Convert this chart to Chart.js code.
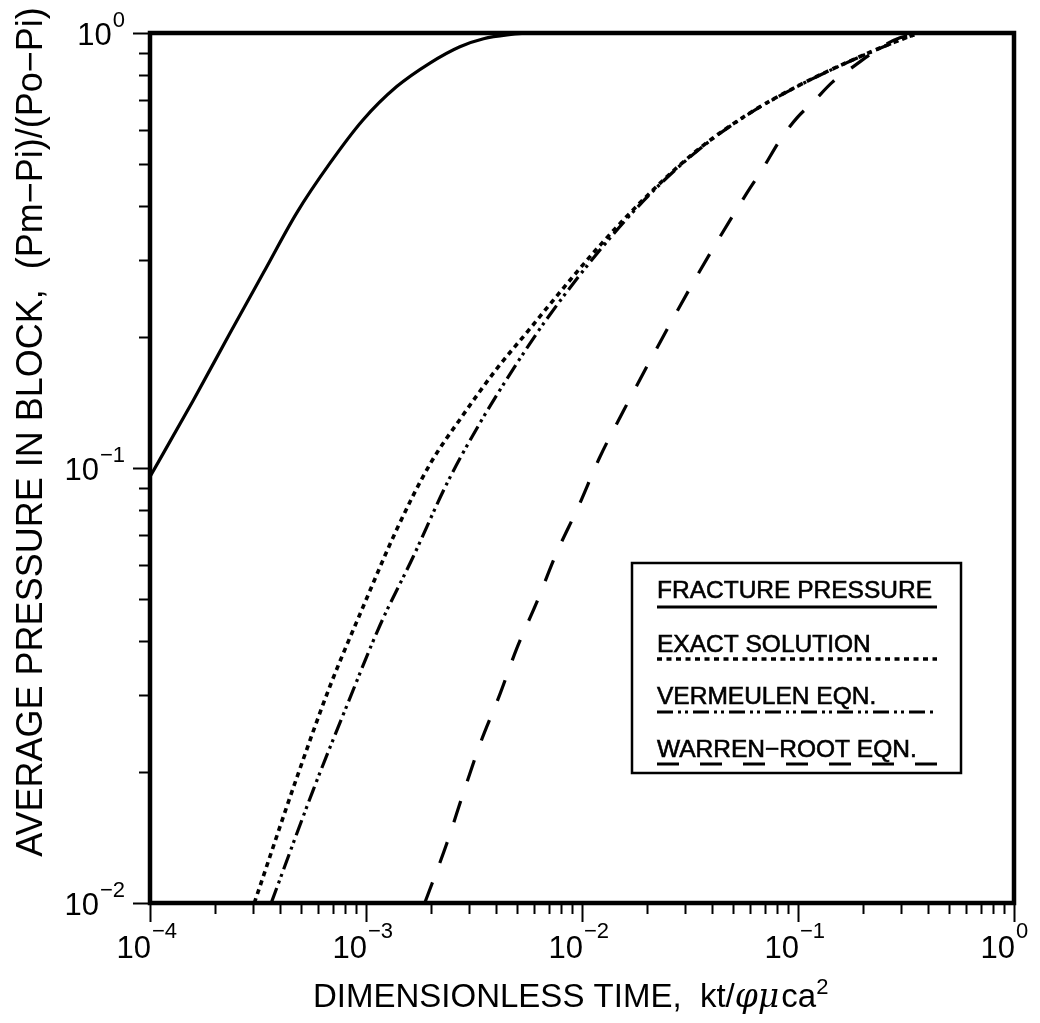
<!DOCTYPE html>
<html><head><meta charset="utf-8">
<script src="https://cdn.jsdelivr.net/npm/chart.js@4/dist/chart.umd.min.js"></script>
<style>html,body{margin:0;padding:0;background:#fff}#wrap{width:1040px;height:1023px}</style>
</head><body><div id="wrap"><canvas id="c" width="1040" height="1023"></canvas></div>
<script>
// ---- data (x: dimensionless time, y: average pressure ratio) ----
const fractureTime     = [1e-4, 1.585e-4, 2.344e-4, 3.35e-4, 4.78e-4, 6.81e-4, 9.68e-4, 1.387e-3, 1.977e-3, 2.72e-3, 3.5e-3, 4.5e-3, 6e-3, 1e-2, 1];
const fracturePressure = [0.0955, 0.143, 0.204, 0.281, 0.386, 0.502, 0.631, 0.753, 0.853, 0.930, 0.970, 0.990, 1.0, 1.0, 1.0];

const exactTime     = [3.04e-4, 4.78e-4, 6.81e-4, 9.72e-4, 1.387e-3, 1.977e-3, 2.818e-3, 4.027e-3, 5.74e-3, 7.11e-3, 1.211e-2, 2.065e-2, 3.516e-2, 5.99e-2, 0.1021, 0.174, 0.2965, 0.345];
const exactPressure = [0.0100, 0.0194, 0.0315, 0.0481, 0.0722, 0.102, 0.1325, 0.169, 0.209, 0.238, 0.325, 0.429, 0.544, 0.655, 0.760, 0.862, 0.964, 0.990];

const vermeulenTime     = [3.64e-4, 5.7e-4, 8.15e-4, 1.161e-3, 1.656e-3, 2.366e-3, 3.373e-3, 4.81e-3, 6.87e-3, 1.211e-2, 2.065e-2, 3.516e-2, 5.99e-2, 0.1021, 0.174, 0.2965, 0.345];
const vermeulenPressure = [0.0100, 0.0182, 0.0284, 0.0435, 0.0626, 0.092, 0.127, 0.169, 0.22, 0.317, 0.426, 0.542, 0.654, 0.759, 0.861, 0.963, 0.990];

const warrenTime     = [1.87e-3, 2.366e-3, 2.818e-3, 3.373e-3, 4.17e-3, 4.99e-3, 6.17e-3, 7.64e-3, 9.62e-3, 1.21e-2, 1.552e-2, 2.065e-2, 3.516e-2, 5.785e-2, 6.89e-2, 8.26e-2, 9.89e-2, 0.1178, 0.1452, 0.1803, 0.2398, 0.2965, 0.348];
const warrenPressure = [0.0100, 0.0137, 0.01785, 0.0232, 0.0302, 0.0385, 0.0491, 0.0639, 0.0815, 0.106, 0.135, 0.1764, 0.284, 0.428, 0.489, 0.5675, 0.638, 0.695, 0.773, 0.837, 0.925, 0.975, 0.990];

const seriesLabels = ['FRACTURE PRESSURE', 'EXACT SOLUTION', 'VERMEULEN EQN.', 'WARREN\u2212ROOT EQN.'];
const xTickExponents = [-4, -3, -2, -1, 0];
const yTickExponents = [-2, -1, 0];
const xTitleParts = [['DIMENSIONLESS TIME,  kt/', 'n'], ['\u03C6\u03BC', 'i'], ['ca', 'n'], ['2', 's']];
const yTitle = 'AVERAGE PRESSURE IN BLOCK,  (Pm\u2212Pi)/(Po\u2212Pi)';

const FONT = '"Liberation Sans", Arial, Helvetica, sans-serif';

function pts(xs, ys) { return xs.map((x, i) => ({x: x, y: ys[i]})); }

const styles = [
  {dash: []},
  {dash: [5, 4.5]},
  {dash: [16, 5, 3, 4, 3, 5]},
  {dash: [22, 21]}
];

const datasets = [
  pts(fractureTime, fracturePressure),
  pts(exactTime, exactPressure),
  pts(vermeulenTime, vermeulenPressure),
  pts(warrenTime, warrenPressure)
].map((d, i) => ({
  label: seriesLabels[i], data: d, borderColor: '#000', backgroundColor: '#000',
  borderWidth: i === 1 ? 3.6 : 3.2, borderDash: styles[i].dash, pointRadius: 0, fill: false,
  cubicInterpolationMode: 'monotone'
}));

const decor = {
  id: 'decor',
  afterDatasetsDraw(chart) {
    const ctx = chart.ctx, a = chart.chartArea;
    const xs = chart.scales.x, ys = chart.scales.y;
    ctx.save();
    ctx.strokeStyle = '#000'; ctx.fillStyle = '#000';
    // frame
    ctx.lineWidth = 4.5; ctx.setLineDash([]);
    ctx.strokeRect(a.left, a.top, a.right - a.left, a.bottom - a.top);
    // x ticks
    ctx.lineWidth = 2;
    for (let e = -4; e <= 0; e++) {
      for (let m = 1; m <= 9; m++) {
        const v = m * Math.pow(10, e);
        if (v > 1.0000001) break;
        const px = Math.round(xs.getPixelForValue(v)) + 0.5;
        const len = (m === 1) ? 19 : 11;
        ctx.beginPath(); ctx.moveTo(px, a.bottom); ctx.lineTo(px, a.bottom + len); ctx.stroke();
      }
    }
    for (let e = -2; e <= 0; e++) {
      for (let m = 1; m <= 9; m++) {
        const v = m * Math.pow(10, e);
        if (v > 1.0000001) break;
        const py = Math.round(ys.getPixelForValue(v)) + 0.5;
        const len = (m === 1) ? 17 : 11;
        ctx.beginPath(); ctx.moveTo(a.left, py); ctx.lineTo(a.left - len, py); ctx.stroke();
      }
    }
    // x tick labels
    const baseFont = '31px ' + FONT, expFont = '22px ' + FONT;
    xTickExponents.forEach(e => {
      const px = xs.getPixelForValue(Math.pow(10, e));
      ctx.font = baseFont; ctx.textAlign = 'right'; ctx.textBaseline = 'alphabetic';
      ctx.fillText('10', px + 1, 958);
      ctx.font = expFont; ctx.textAlign = 'left';
      ctx.fillText(e === 0 ? '0' : '\u2212' + (-e), px + 2, 938);
    });
    // y tick labels
    yTickExponents.forEach(e => {
      const py = ys.getPixelForValue(Math.pow(10, e));
      const expTxt = e === 0 ? '0' : '\u2212' + (-e);
      ctx.font = expFont; ctx.textAlign = 'right'; ctx.textBaseline = 'alphabetic';
      const ew = ctx.measureText(expTxt).width;
      ctx.fillText(expTxt, 125, py - 6);
      ctx.font = baseFont;
      ctx.fillText('10', 125 - ew - 1, py + 12);
    });
    // x title
    let tx = 313; const ty = 1007;
    ctx.textAlign = 'left'; ctx.textBaseline = 'alphabetic';
    xTitleParts.forEach(([t, k]) => {
      let f = '33px ' + FONT, yy = ty;
      if (k === 'i') f = 'italic 33px "DejaVu Serif", serif';
      if (k === 's') { f = '22px ' + FONT; yy = ty - 13; }
      ctx.font = f; ctx.fillText(t, tx, yy);
      tx += ctx.measureText(t).width + (k === 'i' ? 2 : 0);
    });
    // y title
    ctx.save();
    ctx.translate(42, 432); ctx.rotate(-Math.PI / 2);
    ctx.font = '36px ' + FONT; ctx.textAlign = 'center'; ctx.textBaseline = 'alphabetic';
    ctx.fillText(yTitle, 0, 0);
    ctx.restore();
    // legend box
    ctx.lineWidth = 2.5;
    ctx.strokeRect(632, 563, 329, 210);
    const baselines = [598, 652, 704, 757];
    const lineYs = [607, 659, 712, 764];
    chart.data.datasets.forEach((ds, i) => {
      ctx.font = '24.5px ' + FONT; ctx.textAlign = 'left'; ctx.textBaseline = 'alphabetic';
      ctx.lineWidth = 0.6; ctx.setLineDash([]);
      ctx.fillText(ds.label, 657, baselines[i]);
      ctx.strokeText(ds.label, 657, baselines[i]);
      ctx.lineWidth = ds.borderWidth; ctx.setLineDash(ds.borderDash || []);
      ctx.beginPath(); ctx.moveTo(657, lineYs[i]); ctx.lineTo(937, lineYs[i]); ctx.stroke();
    });
    ctx.restore();
  }
};

new Chart(document.getElementById('c'), {
  type: 'line',
  data: {datasets: datasets},
  options: {
    responsive: false, animation: false, devicePixelRatio: 1,
    layout: {padding: {left: 150, top: 33, right: 26, bottom: 120}},
    scales: {
      x: {type: 'logarithmic', min: 1e-4, max: 1, display: false},
      y: {type: 'logarithmic', min: 0.01, max: 1, display: false}
    },
    plugins: {legend: {display: false}, tooltip: {enabled: false}, title: {display: false}}
  },
  plugins: [decor]
});
</script>
</body></html>
